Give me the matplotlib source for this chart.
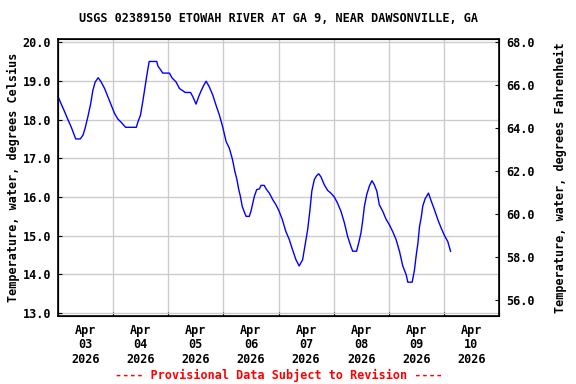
import matplotlib.pyplot as plt
import numpy as np

# Horas desde 2026-04-03 00:00 e temperatura da água (°C)
horas = [0, 1.4, 2.9, 4.3, 5.8, 7.7, 9.7, 10.9, 11.9, 13, 14.2, 15.2, 16.2, 17.5,
         18.8, 20.3, 21.7, 23.2, 24.6, 26.1, 27.5, 29.4, 34.1, 34.8, 35.9, 36.9,
         37.9, 38.8, 39.7, 43, 43.5, 44.6, 45.6, 48.5, 49.6, 51.4, 52.9, 55.4,
         57.7, 58.7, 60.1, 61.3, 62.3, 63.5, 64.5, 65.9, 67.4, 68.8, 70.3, 71.7,
         73.2, 74.6, 76.0, 77.0, 77.9, 78.7, 79.4, 80.2, 81.2, 81.9, 83.3, 84.0,
         84.8, 85.5, 86.5, 87.7, 88.4, 89.8, 90.6, 92.0, 93.5, 94.9, 96.3, 97.7,
         99.2, 100.7, 102.1, 103.6, 105.0, 106.5, 107.6, 108.7, 109.7, 110.5,
         111.6, 112.6, 113.5, 114.5, 115.9, 117.4, 118.8, 120.3, 121.7, 123.2,
         124.7, 126.1, 127.6, 128.3, 130, 130.9, 131.9, 132.7, 133.4, 134.4,
         135.6, 136.7, 137.7, 138.8, 139.9, 141.4, 142.8, 144.3, 145.7, 147.2,
         148.7, 150.1, 151.6, 152.3, 154.2, 155.2, 155.9, 156.7, 157.4, 158.1,
         158.8, 159.8, 161.3, 162.4, 163.9, 165.4, 166.8, 168.3, 169.7, 170.9]
temp_c = [18.6, 18.4, 18.2, 18.0, 17.8, 17.5, 17.5, 17.6, 17.8, 18.07, 18.4, 18.76, 18.97, 19.08,
          18.97, 18.8, 18.59, 18.37, 18.16, 18.01, 17.93, 17.8, 17.8, 17.94, 18.11, 18.46,
          18.84, 19.19, 19.5, 19.5, 19.38, 19.29, 19.2, 19.2, 19.08, 18.97, 18.8, 18.7,
          18.7, 18.59, 18.4, 18.6, 18.74, 18.89, 18.99, 18.84, 18.63, 18.37, 18.11, 17.81,
          17.43, 17.26, 16.96, 16.66, 16.45, 16.19, 16.02, 15.76, 15.6, 15.5, 15.5, 15.63,
          15.84, 16.02, 16.19, 16.21, 16.3, 16.3, 16.21, 16.1, 15.93, 15.8, 15.63, 15.41,
          15.11, 14.9, 14.64, 14.38, 14.22, 14.38, 14.77, 15.16, 15.67, 16.15,
          16.45, 16.55, 16.6, 16.52, 16.32, 16.17, 16.1, 16.0, 15.84, 15.63,
          15.33, 14.98, 14.71, 14.6, 14.6, 14.81, 15.07, 15.41, 15.76, 16.06,
          16.29, 16.42, 16.32, 16.15, 15.8, 15.63, 15.43, 15.28, 15.11, 14.9,
          14.59, 14.22, 13.99, 13.8, 13.8, 14.12, 14.47, 14.81, 15.24, 15.46,
          15.76, 15.95, 16.1, 15.91, 15.67, 15.41, 15.2, 15.0, 14.85, 14.6]

dias_rotulos = ['Apr\n03\n2026', 'Apr\n04\n2026', 'Apr\n05\n2026', 'Apr\n06\n2026',
                'Apr\n07\n2026', 'Apr\n08\n2026', 'Apr\n09\n2026', 'Apr\n10\n2026']
ticks_c = [13.0, 14.0, 15.0, 16.0, 17.0, 18.0, 19.0, 20.0]
ticks_f = [56.0, 58.0, 60.0, 62.0, 64.0, 66.0, 68.0]

fonte = dict(family='DejaVu Sans Mono', weight='bold', size=8.5)

fig = plt.figure(figsize=(5.76, 3.84), dpi=100)
ax = fig.add_axes([58 / 576, 1 - 315.5 / 384, 441 / 576, 276.5 / 384])

x = np.array(horas) / 24.0
ax.plot(x, temp_c, color='#0000ff', linewidth=1.0)

ymin, ymax = 12.94, 20.08
ax.set_xlim(0, 8)
ax.set_ylim(ymin, ymax)

# grade: linhas por dia e por grau
ax.set_xticks(np.arange(0, 9))
ax.set_xticklabels([])
ax.set_xticks(np.arange(8) + 0.5, minor=True)
ax.set_xticklabels(dias_rotulos, minor=True, linespacing=1.15, **fonte)
ax.tick_params(axis='x', which='minor', length=0, pad=6)
ax.tick_params(axis='x', which='major', direction='in', length=3)
ax.set_yticks(ticks_c)
ax.set_yticklabels(['%.1f' % t for t in ticks_c], **fonte)
ax.tick_params(axis='y', direction='in', length=3, pad=5)
ax.grid(True, color='#cccccc', linewidth=1.0)
ax.set_axisbelow(True)
for s in ax.spines.values():
    s.set_linewidth(1.2)

ax.set_ylabel('Temperature, water, degrees Celsius', labelpad=2, **fonte)

# eixo da direita em Fahrenheit
ax2 = ax.twinx()
ax2.set_ylim(ymin * 9 / 5 + 32, ymax * 9 / 5 + 32)
ax2.set_yticks(ticks_f)
ax2.set_yticklabels(['%.1f' % t for t in ticks_f], **fonte)
ax2.tick_params(axis='y', direction='in', length=3, pad=5)
ax2.set_ylabel('Temperature, water, degrees Fahrenheit', rotation=90, labelpad=14, **fonte)

fig.text(278.5 / 576, 1 - 19 / 384, 'USGS 02389150 ETOWAH RIVER AT GA 9, NEAR DAWSONVILLE, GA',
         ha='center', va='center', **fonte)
fig.text(278.5 / 576, 1 - 375 / 384, '---- Provisional Data Subject to Revision ----',
         ha='center', va='center', color='red', **fonte)

fig.savefig('out.png', dpi=100)
